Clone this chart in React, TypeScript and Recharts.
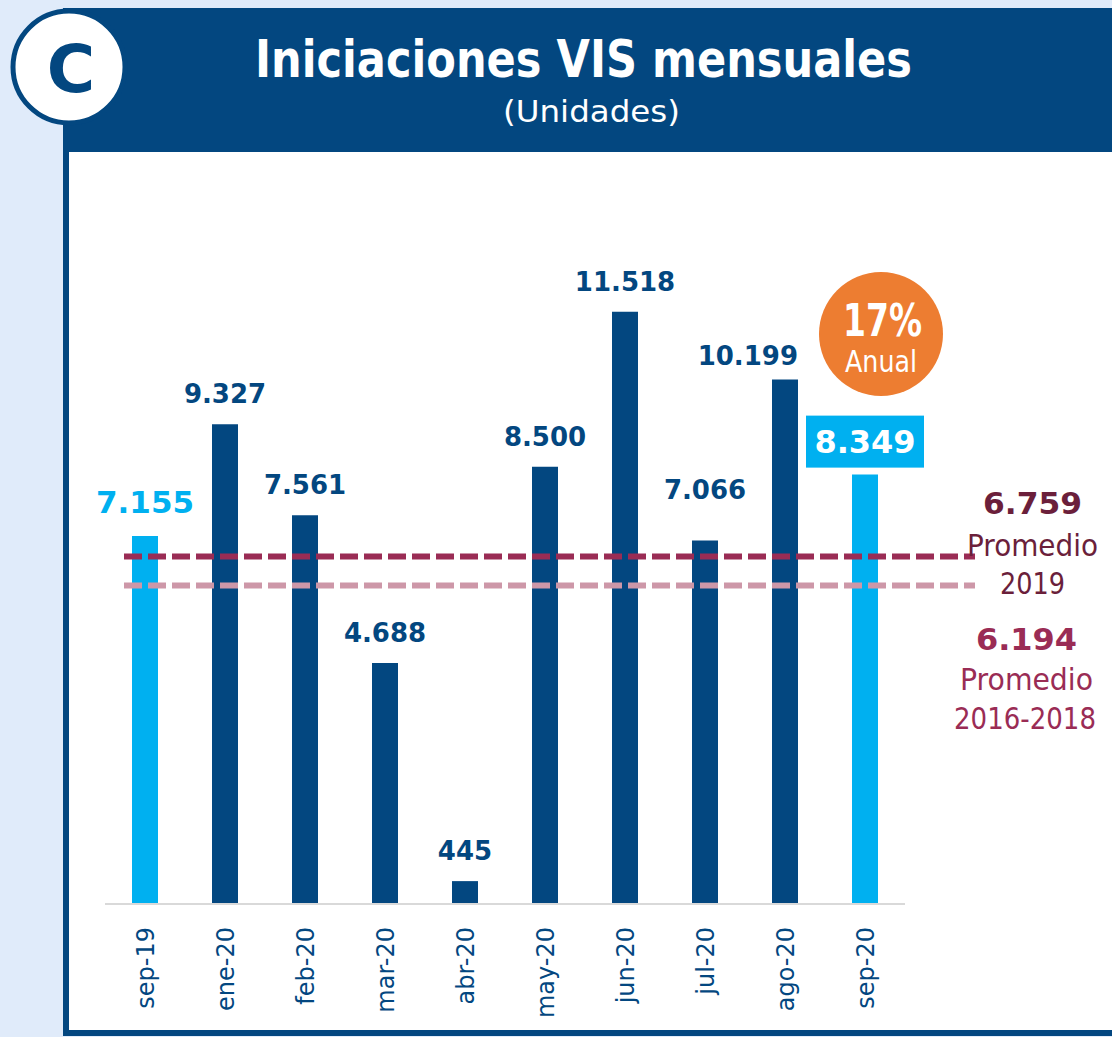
import { Bar, BarChart, Cell, LabelList, ReferenceLine, XAxis, YAxis } from 'recharts'

// Iniciaciones VIS mensuales (unidades)
const months = ['sep-19', 'ene-20', 'feb-20', 'mar-20', 'abr-20', 'may-20', 'jun-20', 'jul-20', 'ago-20', 'sep-20']
const iniciaciones = [7155, 9327, 7561, 4688, 445, 8500, 11518, 7066, 10199, 8349]
const highlighted = ['sep-19', 'sep-20']
const promedio2019 = 6759
const promedio20162018 = 6194
const variacionAnual = '17%'
const yDomainMax = 14000

const DARK = '#034780'
const LIGHT = '#00B0F0'
const BG = '#E0EBFA'
const LINE_2019 = '#9A2C55'
const LINE_1618 = '#CD97A8'
const FONT = '"DejaVu Sans", Verdana, sans-serif'

const data = months.map((mes, i) => ({ mes, valor: iniciaciones[i] }))

const fmt = (v: number) => String(v).replace(/\B(?=(\d{3})+(?!\d))/g, '.')

function MonthTick(props: any) {
  const { x, y, payload } = props
  return (
    <text
      transform={`translate(${x},${y + 15}) rotate(-90)`}
      textAnchor="end"
      dy="0.36em"
      fill={DARK}
      fontSize={24}
      fontFamily={FONT}
    >
      {payload.value}
    </text>
  )
}

function ValueLabel(props: any) {
  const { x, y, width, value, index } = props
  const cx = x + width / 2
  const mes = months[index]
  if (index === months.length - 1) {
    return (
      <g>
        <rect x={cx - 59} y={y - 59} width={118} height={52} fill={LIGHT} />
        <text x={cx} y={y - 22} textAnchor="middle" fill="#fff" fontSize={32} fontWeight="bold" fontFamily={FONT}>
          {fmt(value)}
        </text>
      </g>
    )
  }
  if (highlighted.includes(mes)) {
    return (
      <text x={cx} y={y - 23} textAnchor="middle" fill={LIGHT} fontSize={31} fontWeight="bold" fontFamily={FONT}>
        {fmt(value)}
      </text>
    )
  }
  // ago-20 label sits right-aligned to its bar to clear the "Anual" badge
  if (mes === 'ago-20') {
    return (
      <text x={x + width} y={y - 14} textAnchor="end" fill={DARK} fontSize={26} fontWeight="bold" fontFamily={FONT}>
        {fmt(value)}
      </text>
    )
  }
  const dyTop = mes === 'jul-20' ? 42 : 21
  return (
    <text x={cx} y={y - dyTop} textAnchor="middle" fill={DARK} fontSize={26} fontWeight="bold" fontFamily={FONT}>
      {fmt(value)}
    </text>
  )
}

const dashedLine = (color: string) => (p: any) => (
  <line
    x1={p.x1 + 19}
    x2={p.x2 + 70}
    y1={p.y1}
    y2={p.y2}
    stroke={color}
    strokeWidth={6}
    strokeDasharray="18 6"
  />
)

export default function App() {
  return (
    <div style={{ position: 'absolute', left: 0, top: 0, width: 1112, height: 1037, background: BG, overflow: 'hidden' }}>
      <svg width={1112} height={1037} style={{ position: 'absolute', left: 0, top: 0 }}>
        <rect x={66} y={11} width={1100} height={1022} fill="#fff" stroke={DARK} strokeWidth={6} />
        <rect x={63} y={8} width={1060} height={144} fill={DARK} />
        <circle cx={69} cy={67} r={56} fill="#fff" stroke={DARK} strokeWidth={5} />
        <text x={71} y={92} textAnchor="middle" fill={DARK} fontSize={66} fontWeight="bold" fontFamily={FONT}>
          C
        </text>
        <text
          x={255}
          y={77}
          fill="#fff"
          fontSize={52}
          fontWeight="bold"
          fontFamily={FONT}
          textLength={657}
          lengthAdjust="spacingAndGlyphs"
        >
          Iniciaciones VIS mensuales
        </text>
        <text x={503} y={122} fill="#fff" fontSize={31} fontFamily={FONT} textLength={177} lengthAdjust="spacingAndGlyphs">
          (Unidades)
        </text>
      </svg>

      <div style={{ position: 'absolute', left: 0, top: 0 }}>
        <BarChart width={1112} height={1037} data={data} margin={{ top: 184, right: 207, left: 105, bottom: 33 }}>
          <YAxis hide domain={[0, yDomainMax]} />
          <XAxis
            dataKey="mes"
            height={100}
            interval={0}
            tickLine={false}
            axisLine={{ stroke: '#D9D9D9', strokeWidth: 2 }}
            tick={<MonthTick />}
          />
          <Bar dataKey="valor" barSize={26} isAnimationActive={false}>
            {data.map((d) => (
              <Cell key={d.mes} fill={highlighted.includes(d.mes) ? LIGHT : DARK} />
            ))}
            <LabelList dataKey="valor" content={<ValueLabel />} />
          </Bar>
          <ReferenceLine y={promedio2019} ifOverflow="visible" shape={dashedLine(LINE_2019)} />
          <ReferenceLine y={promedio20162018} ifOverflow="visible" shape={dashedLine(LINE_1618)} />
        </BarChart>
      </div>

      <svg width={1112} height={1037} style={{ position: 'absolute', left: 0, top: 0, pointerEvents: 'none' }}>
        <circle cx={881} cy={334} r={62} fill="#ED7D31" />
        <text x={843} y={336} fill="#fff" fontSize={44} fontWeight="bold" fontFamily={FONT} textLength={79} lengthAdjust="spacingAndGlyphs">
          {variacionAnual}
        </text>
        <text x={845} y={372} fill="#fff" fontSize={30} fontFamily={FONT} textLength={72} lengthAdjust="spacingAndGlyphs">
          Anual
        </text>

        <text x={983} y={514} fill="#6B1F3B" fontSize={31} fontWeight="bold" fontFamily={FONT} textLength={99} lengthAdjust="spacingAndGlyphs">
          {fmt(promedio2019)}
        </text>
        <text x={967} y={556} fill="#6B1F3B" fontSize={31} fontFamily={FONT} textLength={131} lengthAdjust="spacingAndGlyphs">
          Promedio
        </text>
        <text x={1000} y={594} fill="#6B1F3B" fontSize={31} fontFamily={FONT} textLength={65} lengthAdjust="spacingAndGlyphs">
          2019
        </text>

        <text x={976} y={650} fill={LINE_2019} fontSize={31} fontWeight="bold" fontFamily={FONT} textLength={101} lengthAdjust="spacingAndGlyphs">
          {fmt(promedio20162018)}
        </text>
        <text x={960} y={690} fill={LINE_2019} fontSize={31} fontFamily={FONT} textLength={133} lengthAdjust="spacingAndGlyphs">
          Promedio
        </text>
        <text x={954} y={729} fill={LINE_2019} fontSize={31} fontFamily={FONT} textLength={142} lengthAdjust="spacingAndGlyphs">
          2016-2018
        </text>
      </svg>
    </div>
  )
}
